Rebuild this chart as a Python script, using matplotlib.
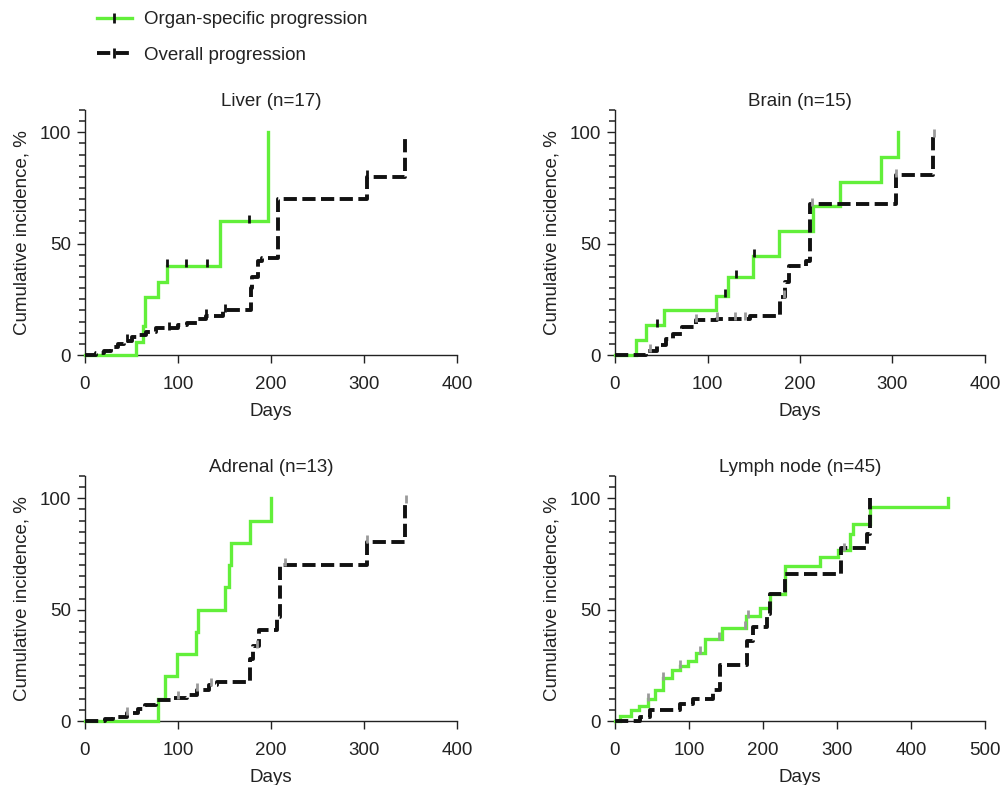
import numpy as np
import matplotlib
matplotlib.use("Agg")
import matplotlib.pyplot as plt
from matplotlib.lines import Line2D
from matplotlib.ticker import MultipleLocator, FixedLocator

plt.rcParams['font.family'] = ['Liberation Sans', 'DejaVu Sans']

GREEN = '#62ef3a'
BLACK = '#111111'
GREY = '#9a9a9a'

titles = ["Liver (n=17)", "Brain (n=15)", "Adrenal (n=13)", "Lymph node (n=45)"]
xmax = [400, 400, 400, 500]
y_major = [0, 50, 100]
y_minor = [5, 10, 15, 20, 25, 30, 35, 40, 45, 55, 60, 65, 70, 75, 80, 85, 90, 95, 105, 110]

# Organ-specific progression (green)
liver_g_days = [0, 55, 62, 64, 79, 88, 145, 197]
liver_g_vals = [0, 6, 13, 26, 33, 40, 60, 100]
brain_g_days = [0, 23, 33, 53, 109, 122, 149, 177, 214, 243, 288, 306]
brain_g_vals = [0, 6.7, 13.3, 20, 26.7, 35, 44.4, 55.5, 66.7, 77.7, 88.8, 100]
adrenal_g_days = [0, 78, 86, 99, 119, 122, 150, 155, 157, 177, 200]
adrenal_g_vals = [0, 10, 20, 30, 40, 50, 60, 70, 80, 90, 100]
lymph_g_days = [0, 7, 22, 33, 45, 54, 65, 77, 88, 99, 110, 122, 144, 177, 196, 210, 230, 277, 302, 318, 322, 345, 450]
lymph_g_vals = [0, 2.2, 4.9, 6.7, 9.7, 13.9, 19.2, 22.9, 24.5, 26.9, 30.6, 37, 41.9, 47, 50.7, 57, 69.6, 73.6, 77, 84, 88.6, 96.1, 100]

# Overall progression (black dashed)
liver_o_days = [0, 12, 20, 28, 35, 42, 50, 58, 66, 76, 100, 110, 120, 130, 148, 178, 180, 186, 190, 208, 303, 344]
liver_o_vals = [0, 1, 2, 3.5, 5, 6.5, 8, 9, 10.5, 12, 13.5, 14.5, 16, 17.5, 20, 30, 35, 42, 43.5, 70, 80, 98]
brain_o_days = [0, 34, 45, 55, 63, 72, 88, 110, 146, 178, 184, 188, 207, 211, 304, 344]
brain_o_vals = [0, 2, 4.7, 7, 9.6, 12.5, 15.5, 16.2, 17.7, 26, 33, 40, 42, 67.7, 80.7, 98.6]
adrenal_o_days = [0, 21, 30, 45, 57, 65, 76, 96, 110, 120, 133, 142, 177, 181, 187, 206, 210, 303, 344]
adrenal_o_vals = [0, 0.7, 2, 3.5, 5.5, 7.2, 9.3, 10.4, 11.6, 13.9, 16.1, 17.3, 28, 33.5, 41, 46.7, 70, 80.4, 98.3]
lymph_o_days = [0, 34, 47, 88, 106, 133, 142, 178, 187, 205, 210, 230, 305, 341, 345]
lymph_o_vals = [0, 2, 4.9, 7.5, 10, 13.9, 25, 36, 42, 48, 57, 66, 77.6, 84, 100]

# Censoring times
liver_g_cens = [88, 109, 131, 176]
liver_o_cens = [45, 90, 130, 150, 303]
brain_g_cens = [45, 119, 131, 150]
brain_o_cens = [38, 88, 110, 130, 141, 183, 213, 304, 345]
adrenal_g_cens = []
adrenal_o_cens = [45, 100, 120, 135, 185, 215, 303, 345]
lymph_g_cens = [45, 65, 88, 115, 140, 176, 180, 309]
lymph_o_cens = []

panels = [
    (liver_g_days, liver_g_vals, liver_o_days, liver_o_vals, liver_g_cens, liver_o_cens, BLACK, BLACK),
    (brain_g_days, brain_g_vals, brain_o_days, brain_o_vals, brain_g_cens, brain_o_cens, BLACK, GREY),
    (adrenal_g_days, adrenal_g_vals, adrenal_o_days, adrenal_o_vals, adrenal_g_cens, adrenal_o_cens, BLACK, GREY),
    (lymph_g_days, lymph_g_vals, lymph_o_days, lymph_o_vals, lymph_g_cens, lymph_o_cens, GREY, GREY),
]

W, H = 1001, 785
fig = plt.figure(figsize=(W / 100, H / 100), dpi=100)

lefts = [85, 615, 85, 615]
rights = [457, 985, 457, 985]
bottoms = [355, 355, 721, 721]
tops = [110, 110, 476, 476]

FS = 13.5
GLW = 2.4
BLW = 2.8
DASH = (0, (3.4, 1.4))
AXC = '#222222'
TXC = '#222222'


def step_val(days, vals, d):
    i = np.searchsorted(days, d, side='right') - 1
    return vals[max(i, 0)]


for k in range(4):
    l, r, b, t = lefts[k], rights[k], bottoms[k], tops[k]
    ax = fig.add_axes([l / W, 1 - b / H, (r - l) / W, (b - t) / H])
    gd, gv, od, ov, gc, oc, gcc, occ = panels[k]
    ax.step(gd, gv, where='post', color=GREEN, lw=GLW, solid_joinstyle='miter', zorder=3, clip_on=False)
    ax.step(od, ov, where='post', color=BLACK, lw=BLW, linestyle=DASH, zorder=4, clip_on=False)
    if gc:
        ax.plot(gc, [step_val(gd, gv, d) + 1.2 for d in gc], linestyle='none', marker='|',
                markersize=6, markeredgewidth=2, color=gcc, zorder=5)
    if oc:
        ax.plot(oc, [step_val(od, ov, d) + 1.2 for d in oc], linestyle='none', marker='|',
                markersize=6, markeredgewidth=2, color=occ, zorder=5)
    ax.set_xlim(0, xmax[k])
    ax.set_ylim(0, 110)
    ax.xaxis.set_major_locator(MultipleLocator(100))
    ax.yaxis.set_major_locator(FixedLocator(y_major))
    ax.yaxis.set_minor_locator(FixedLocator(y_minor))
    for s in ['top', 'right']:
        ax.spines[s].set_visible(False)
    for s in ['left', 'bottom']:
        ax.spines[s].set_color(AXC)
        ax.spines[s].set_linewidth(1.0)
    ax.tick_params(axis='x', which='major', length=6, width=1, color=AXC, labelsize=FS,
                   labelcolor=TXC, pad=9)
    ax.tick_params(axis='y', which='major', length=6, width=1, color=AXC, labelsize=FS,
                   labelcolor=TXC, pad=4)
    ax.tick_params(axis='y', which='minor', length=4.5, width=1.2, color='#333333', left=True)
    ax.set_title(titles[k], fontsize=FS, pad=3, color=TXC)
    ax.set_xlabel('Days', fontsize=FS, labelpad=7, color=TXC)
    ax.set_ylabel('Cumulative incidence, %', fontsize=FS, labelpad=7, color=TXC)

handles = [
    Line2D([], [], color=GREEN, lw=GLW, marker='|', markersize=7, markeredgewidth=2, markeredgecolor=BLACK),
    Line2D([], [], color=BLACK, lw=BLW, linestyle=DASH, marker='|', markersize=7, markeredgewidth=2),
]
fig.legend(handles, ['Organ-specific progression', 'Overall progression'],
           loc='upper left', bbox_to_anchor=(97 / W, 1 - 11 / H), frameon=False,
           fontsize=FS, handlelength=1.85, handletextpad=0.68, labelspacing=0.98,
           borderpad=0, borderaxespad=0, labelcolor=TXC)

fig.savefig('out.png', dpi=100)
